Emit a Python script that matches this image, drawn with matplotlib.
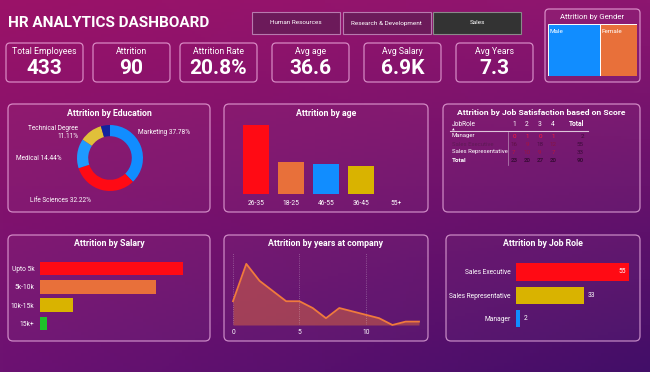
import matplotlib
matplotlib.use("Agg")
import matplotlib.pyplot as plt
from matplotlib import font_manager
from matplotlib.colors import to_rgb
from matplotlib.patches import FancyBboxPatch, Rectangle
import numpy as np

W, H = 650, 372

# ---- data
total_employees = 433
attrition = 90
avg_age = 36.6
avg_salary_k = 6.9
avg_years = 7.3

departments = ["Human Resources", "Research & Development", "Sales"]
selected_dept = "Sales"

gender = ["Male", "Female"]
gender_attr = [53, 37]

edu_fields = ["Marketing", "Life Sciences", "Medical", "Technical Degree", "Other"]
edu_attr = [34, 29, 13, 10, 4]

age_groups = ["26-35", "18-25", "46-55", "36-45", "55+"]
age_attr = [39, 18, 17, 16, 0]

sat_roles = ["Manager", "Sales Executive", "Sales Representative"]
sat_scores = ["1", "2", "3", "4"]
sat_manager = [0, 1, 0, 1]
sat_exec = [16, 9, 18, 12]
sat_rep = [7, 10, 9, 7]

salary_bands = ["Upto 5k", "5k-10k", "10k-15k", "15k+"]
salary_attr = [43, 35, 10, 2]

years = list(range(15))
years_attr = [7, 18, 13, 10, 7, 7, 5, 2, 5, 4, 3, 2, 0, 1, 1]

job_roles = ["Sales Executive", "Sales Representative", "Manager"]
job_attr = [55, 33, 2]

# ---- fonts
avail = {f.name for f in font_manager.fontManager.ttflist}
FONT = next((f for f in ["Liberation Sans Narrow", "Roboto"] if f in avail), "DejaVu Sans")
plt.rcParams["font.family"] = [FONT, "DejaVu Sans"]
plt.rcParams["text.color"] = "white"

RED, ORANGE, BLUE, YELLOW = "#ff0a14", "#e8703a", "#118dff", "#d9b300"
EDGE = (1.0, 0.78, 0.95, 0.65)


def box(x0, y0, x1, y1):
    return [x0 / W, 1 - y1 / H, (x1 - x0) / W, (y1 - y0) / H]


def panel(x0, y0, x1, y1, r=5, title=None, size=6.3):
    bg.add_patch(FancyBboxPatch((x0, y0), x1 - x0, y1 - y0,
                                boxstyle=f"round,pad=0,rounding_size={r}",
                                fc=(1, 1, 1, 0.03), ec=EDGE, lw=0.9))
    if title:
        bg.text((x0 + x1) / 2, y0 + 9, title, ha="center", va="center",
                fontsize=size, fontweight="bold")


def clean(ax):
    ax.patch.set_visible(False)
    for s in ax.spines.values():
        s.set_visible(False)
    ax.tick_params(length=0, colors="white", labelsize=4.8, pad=4)


fig = plt.figure(figsize=(6.5, 3.72), dpi=100)
bg = fig.add_axes([0, 0, 1, 1])
tl, tr, bl, br = [np.array(to_rgb(c)) for c in ("#9b1268", "#8c1670", "#6c1272", "#420e68")]
u = np.linspace(0, 1, 200)[None, :, None]
v = np.linspace(0, 1, 120)[:, None, None]
grad = (1 - u) * (1 - v) * tl + u * (1 - v) * tr + (1 - u) * v * bl + u * v * br
bg.imshow(grad, extent=[0, W, H, 0], aspect="auto", zorder=0)
bg.set_xlim(0, W)
bg.set_ylim(H, 0)
bg.axis("off")

# title and slicer
bg.text(8, 23, "HR ANALYTICS DASHBOARD", fontsize=11, fontweight="bold", va="center")
for i, d in enumerate(departments):
    x0 = 252 + i * 90.5
    sel = d == selected_dept
    bg.add_patch(Rectangle((x0, 12), 88, 22, fc="#333333" if sel else "#6c1a5a",
                           ec="#8a8a8a" if sel else "#b77aae", lw=0.8))
    bg.text(x0 + 44, 23, d, ha="center", va="center", fontsize=4.6)

# KPI cards
kpi_labels = ["Total Employees", "Attrition", "Attrition Rate", "Avg age", "Avg Salary", "Avg Years"]
kpi_values = [f"{total_employees}", f"{attrition}", f"{attrition / total_employees * 100:.1f}%",
              f"{avg_age}", f"{avg_salary_k}K", f"{avg_years}"]
card_x = [6, 93, 180, 272, 364, 456]
for x0, lab, val in zip(card_x, kpi_labels, kpi_values):
    bg.add_patch(FancyBboxPatch((x0, 43), 77, 39, boxstyle="round,pad=0,rounding_size=4",
                                fc="none", ec=EDGE, lw=0.9))
    bg.text(x0 + 38.5, 51, lab, ha="center", va="center", fontsize=6.3)
    bg.text(x0 + 38.5, 69, val, ha="center", va="center", fontsize=15, fontweight="bold")

# gender treemap
panel(545, 9, 640, 82, r=4)
bg.text(592.5, 16.5, "Attrition by Gender", ha="center", va="center", fontsize=5.6)
gx = fig.add_axes(box(548, 24, 637, 76))
left = np.cumsum([0] + gender_attr[:-1])
gx.barh(0, gender_attr, left=left, height=1, align="edge", color=[BLUE, ORANGE],
        edgecolor="white", linewidth=0.7)
for l, g in zip(left, gender):
    gx.text(l + 1.2, 0.86, g, fontsize=4.6, va="center")
gx.set_xlim(0, sum(gender_attr))
gx.set_ylim(0, 1)
gx.axis("off")

# education donut
panel(8, 104, 210, 212, title="Attrition by Education")
dx = fig.add_axes(box(70, 118, 150, 198))
dx.pie(edu_attr, colors=[BLUE, RED, "#1f9aff", "#e0c03a", "#12239e"], startangle=90,
       counterclock=False, radius=0.825, wedgeprops=dict(width=0.28, edgecolor="none"))
dx.set_xlim(-1, 1)
dx.set_ylim(-1, 1)
pct = [v / sum(edu_attr) * 100 for v in edu_attr]
bg.text(138, 132, f"{edu_fields[0]} {pct[0]:.2f}%", fontsize=4.7, va="center")
bg.text(91, 201, f"{edu_fields[1]} {pct[1]:.2f}%", fontsize=4.7, va="center", ha="right")
bg.text(62, 158, f"{edu_fields[2]} {pct[2]:.2f}%", fontsize=4.7, va="center", ha="right")
bg.text(78, 132.5, f"{edu_fields[3]}\n{pct[3]:.2f}%", fontsize=4.7, va="center", ha="right",
        multialignment="right", linespacing=1.3)

# age bars
panel(224, 104, 428, 212, title="Attrition by age")
ax = fig.add_axes(box(235, 118, 417, 194))
ax.bar(range(len(age_groups)), age_attr, width=0.77, color=[RED, ORANGE, BLUE, YELLOW, YELLOW])
ax.set_xlim(-0.6, 4.6)
ax.set_ylim(0, 43)
ax.set_xticks(range(len(age_groups)), age_groups)
ax.set_yticks([])
clean(ax)

# job satisfaction matrix
panel(443, 104, 640, 212, title="Attrition by Job Satisfaction based on Score", size=6.1)
col_x = [514, 527, 540, 553]
tot_x = 584
bg.text(452, 124, "JobRole", fontsize=4.8, va="center")
bg.text(453, 129.5, "▲", fontsize=2.5, va="center", ha="center")
for x, s in zip(col_x, sat_scores):
    bg.text(x, 124, s, fontsize=4.8, va="center", ha="center")
bg.text(tot_x, 124, "Total", fontsize=4.8, va="center", ha="right", fontweight="bold")
bg.plot([450, 588], [131, 131], color="white", lw=0.8, alpha=0.75)
bg.plot([508, 508], [132, 165], color="white", lw=0.5, alpha=0.5)
DARK = np.array(to_rgb("#4a0f45"))
HOT = np.array(to_rgb("#ff1a3c"))
rows = [sat_manager, sat_exec, sat_rep]
name_cols = ["white", "#5e1a55", "white"]
for k, (role, vals) in enumerate(zip(sat_roles, rows)):
    y = 136 + k * 8
    bg.text(452, y, role, fontsize=4.3, va="center", color=name_cols[k])
    for x, val in zip(col_x, vals):
        t = min(val / 18, 1)
        bg.text(x, y, str(val), fontsize=4.5, va="center", ha="center",
                color=tuple((1 - t) * HOT + t * DARK))
    bg.text(tot_x, y, str(sum(vals)), fontsize=4.5, va="center", ha="right", color="#3c0c3a")
bg.text(452, 160, "Total", fontsize=4.5, va="center", fontweight="bold")
col_tot = [sum(c) for c in zip(*rows)]
for x, val in zip(col_x, col_tot):
    bg.text(x, 160, str(val), fontsize=4.5, va="center", ha="center", color="#3c0c3a",
            fontweight="bold")
bg.text(tot_x, 160, str(sum(col_tot)), fontsize=4.5, va="center", ha="right",
        color="#3c0c3a", fontweight="bold")

# salary bars
panel(8, 235, 210, 341, title="Attrition by Salary")
sx = fig.add_axes(box(40, 259.4, 200, 332.6))
sx.barh(range(len(salary_bands)), salary_attr, height=0.73, color=[RED, ORANGE, YELLOW, "#1ec22a"])
sx.set_ylim(3.5, -0.5)
sx.set_xlim(0, 48.1)
sx.set_yticks(range(len(salary_bands)), salary_bands)
sx.set_xticks([])
clean(sx)

# years at company area
panel(224, 235, 428, 341, title="Attrition by years at company")
yx = fig.add_axes(box(233, 253, 419, 325))
for g in [0, 5, 10]:
    yx.axvline(g, color="white", alpha=0.35, ls=":", lw=0.6)
yx.fill_between(years, years_attr, color=ORANGE, alpha=0.45, lw=0)
yx.plot(years, years_attr, color="#f07a3c", lw=1.3, clip_on=False)
yx.set_xlim(0, 14)
yx.set_ylim(0, 21.2)
yx.set_xticks([0, 5, 10])
yx.set_yticks([])
clean(yx)
yx.tick_params(pad=3)

# job role bars
panel(446, 235, 640, 341, title="Attrition by Job Role")
jx = fig.add_axes(box(516, 260.3, 634, 330.2))
jx.barh(range(len(job_roles)), job_attr, height=0.75, color=[RED, YELLOW, BLUE])
for i, val in enumerate(job_attr):
    if val > 0.8 * max(job_attr):
        jx.text(val - 1.5, i, str(val), ha="right", va="center", fontsize=4.8)
    else:
        jx.text(val + 1.8, i, str(val), ha="left", va="center", fontsize=4.8)
jx.set_ylim(2.5, -0.5)
jx.set_xlim(0, 57.4)
jx.set_yticks(range(len(job_roles)), job_roles)
jx.set_xticks([])
clean(jx)

fig.savefig("out.png", dpi=100)
